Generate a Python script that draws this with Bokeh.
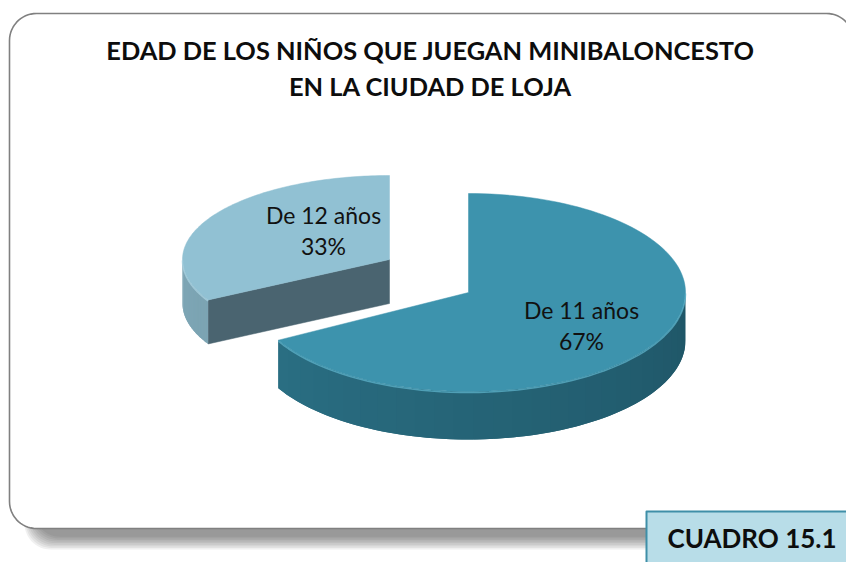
import numpy as np
from bokeh.plotting import figure
from bokeh.models import Range1d
from bokeh.core.properties import value
from bokeh.embed import file_html
from bokeh.resources import INLINE

# ---------------- data ----------------
title_lines = ["EDAD DE LOS NIÑOS QUE JUEGAN MINIBALONCESTO", "EN LA CIUDAD DE LOJA"]
categories = ["De 11 años", "De 12 años"]
values = [67, 33]
box_label = "CUADRO 15.1"

# ---------------- canvas ----------------
W, H = 846, 562
p = figure(width=W, height=H, x_range=Range1d(0, W), y_range=Range1d(H, 0),
           output_backend="svg", toolbar_location=None, min_border=0)
p.axis.visible = False
p.grid.visible = False
p.outline_line_color = None
p.background_fill_color = "white"
p.border_fill_color = "white"
FONT = value("Lato")


def rrect(x0, y0, x1, y1, r, n=16):
    xs, ys = [], []
    for (cx, cy, a0) in [(x1 - r, y0 + r, -90), (x1 - r, y1 - r, 0), (x0 + r, y1 - r, 90), (x0 + r, y0 + r, 180)]:
        t = np.radians(np.linspace(a0, a0 + 90, n))
        xs.extend(cx + r * np.cos(t))
        ys.extend(cy + r * np.sin(t))
    return xs, ys


# frame shadow (layered for blur)
for j in range(9):
    sx, sy = rrect(24 + j * 1.2, 40 + j * 1.2, 880 - j * 1.2, 549 - j * 1.6, 26)
    p.patch(sx, sy, fill_color="#3a3a3a", fill_alpha=0.08, line_color=None)

# frame
fx, fy = rrect(9, 13, 853, 528, 27)
p.patch(fx, fy, fill_color="white", line_color="#808080", line_width=1.6)

# title
for i, t in enumerate(title_lines):
    p.text(x=[430], y=[49.5 + 36 * i], text=[t], text_font=FONT, text_font_style="bold",
           text_font_size="25.4px", text_align="center", text_baseline="middle", text_color="#0d0d0d")

# ---------------- 3D pie ----------------
total = float(sum(values))
angles = np.cumsum([0] + [v / total * 360.0 for v in values])


def pt(cx, cy, a, b, th):
    t = np.radians(th)
    return cx + a * np.sin(t), cy - b * np.cos(t)


def lerp_col(c0, c1, f):
    a = np.array([int(c0[i:i + 2], 16) for i in (1, 3, 5)])
    b = np.array([int(c1[i:i + 2], 16) for i in (1, 3, 5)])
    c = (a + (b - a) * f).round().astype(int)
    return "#%02x%02x%02x" % tuple(c)


# geometry per slice (large slice in front, small slice exploded to back-left)
geo = [
    dict(cx=468, cy=292, a=217, b=99, d=48, top="#3d93ad", side0="#1f5667", side1="#2c7388",
         cut="#2a6c80", rim="#5aaec6"),
    dict(cx=389, cy=259, a=207, b=84, d=44, top="#91c1d3", side0="#6f98a8", side1="#7ea6b5",
         cut="#4a6470", rim="#a8d0de"),
]

order = [1, 0]
for k in order:
    g = geo[k]
    th0, th1 = angles[k], angles[k + 1]
    cx, cy, a, b, d = g["cx"], g["cy"], g["a"], g["b"], g["d"]
    # cut face at th0 (visible when facing viewer)
    if 180 < th0 < 360:
        ex, ey = pt(cx, cy, a, b, th0)
        p.patch([cx, ex, ex, cx], [cy, ey, ey + d, cy + d], fill_color=g["cut"], line_color=g["cut"], line_width=0.5)
    # outer side
    s0, s1 = max(th0, 90), min(th1, 270)
    if s1 > s0:
        ts = np.linspace(s0, s1, 30)
        n = len(ts)
        qx, qy, cols = [], [], []
        for i in range(n - 1):
            j2 = min(i + 2, n - 1)
            pts = np.linspace(ts[i], ts[j2], 6)
            ux, uy = pt(cx, cy, a, b, pts)
            qx.append(np.concatenate([ux, ux[::-1]]))
            qy.append(np.concatenate([uy, uy[::-1] + d]))
            f = (ts[i] - 90) / 180.0
            cols.append(lerp_col(g["side0"], g["side1"], f))
        p.patches(qx, qy, fill_color=cols, line_color=None)
    # top face
    ts = np.linspace(th0, th1, 120)
    tx, ty = pt(cx, cy, a, b, ts)
    p.patch(np.concatenate([[cx], tx]), np.concatenate([[cy], ty]), fill_color=g["top"],
            line_color=g["top"], line_width=0.5)
    # rim highlight on front edge
    if s1 > s0:
        ts = np.linspace(s0, s1, 60)
        rx, ry = pt(cx, cy, a, b, ts)
        p.line(rx, ry + 1, line_color=g["rim"], line_width=1.5, line_alpha=0.8)

# labels
lab_pos = [(581, 309), (323, 214)]
for k, cat in enumerate(categories):
    x, y = lab_pos[k]
    p.text(x=[x, x], y=[y, y + 31], text=[cat, "%d%%" % values[k]], text_font=FONT,
           text_font_size="23px", text_align="center", text_baseline="middle", text_color="#111111")

# CUADRO box
bx, by = rrect(646, 511, 880, 580, 0.01, n=2)
p.patch(bx, by, fill_color="#b8dde8", line_color="#3f8fa8", line_width=2)
p.text(x=[667], y=[537], text=[box_label], text_font=FONT, text_font_style="bold",
       text_font_size="26px", text_align="left", text_baseline="middle", text_color="#0d0d0d")

open("out.html", "w").write(file_html(p, INLINE))
